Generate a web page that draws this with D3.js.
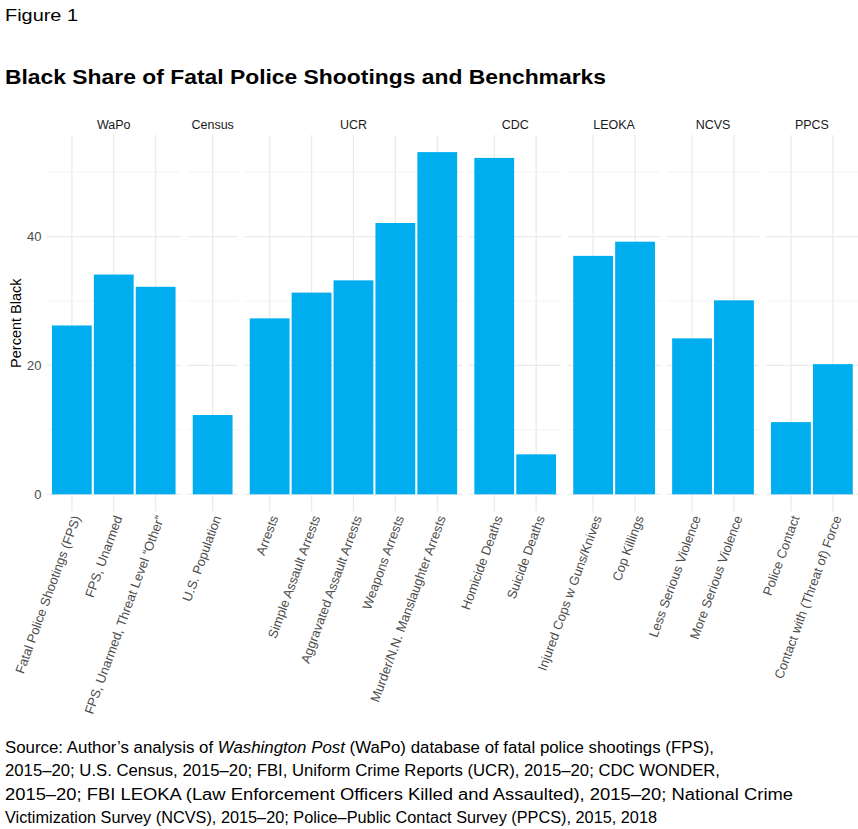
<!DOCTYPE html>
<html>
<head>
<meta charset="utf-8">
<script src="https://cdn.jsdelivr.net/npm/d3@7"></script>
<style>
  body { margin: 0; background: #fff; }
  svg { display: block; font-family: "Liberation Sans", Arial, sans-serif; }
</style>
</head>
<body>
<svg width="858" height="829"></svg>
<script>
/* data */
var facets = ["WaPo", "Census", "UCR", "CDC", "LEOKA", "NCVS", "PPCS"];

var categories = [
  "Fatal Police Shootings (FPS)", "FPS, Unarmed", "FPS, Unarmed, Threat Level \u201COther\u201D",
  "U.S. Population",
  "Arrests", "Simple Assault Arrests", "Aggravated Assault Arrests", "Weapons Arrests", "Murder/N.N. Manslaughter Arrests",
  "Homicide Deaths", "Suicide Deaths",
  "Injured Cops w Guns/Knives", "Cop Killings",
  "Less Serious Violence", "More Serious Violence",
  "Police Contact", "Contact with (Threat of) Force"
];

var groups = [
  "WaPo", "WaPo", "WaPo",
  "Census",
  "UCR", "UCR", "UCR", "UCR", "UCR",
  "CDC", "CDC",
  "LEOKA", "LEOKA",
  "NCVS", "NCVS",
  "PPCS", "PPCS"
];

var values = [
  26.2, 34.1, 32.2,
  12.3,
  27.3, 31.3, 33.2, 42.1, 53.1,
  52.2, 6.2,
  37.0, 39.2,
  24.2, 30.1,
  11.2, 20.2
];

var majorTicks = [0, 20, 40],
    minorTicks = [10, 30, 50];

var sourceLines = [
  ["Source: Author\u2019s analysis of ", "Washington Post", " (WaPo) database of fatal police shootings (FPS),"],
  ["2015\u201320; U.S. Census, 2015\u201320; FBI, Uniform Crime Reports (UCR), 2015\u201320; CDC WONDER,"],
  ["2015\u201320; FBI LEOKA (Law Enforcement Officers Killed and Assaulted), 2015\u201320; National Crime"],
  ["Victimization Survey (NCVS), 2015\u201320; Police\u2013Public Contact Survey (PPCS), 2015, 2018"]
];
var sourceWidths = [709, 715, 788, 652];

var data = categories.map(function(c, i) {
  return { cat: c, group: groups[i], value: values[i] };
});

var svg = d3.select("svg");

var panelLeft = 46.7, panelRight = 858, panelTop = 135, panelBottom = 511.4, gap = 6.7;

/* y scale with ggplot-like 5% expansion */
var maxV = d3.max(values);
var y = d3.scaleLinear()
    .domain([-0.05 * maxV, 1.05 * maxV])
    .range([panelBottom, panelTop]);

/* panel widths proportional to number of bars (+0.6 units each side) */
var counts = facets.map(function(f) { return groups.filter(function(g) { return g === f; }).length; });
var totalUnits = d3.sum(counts, function(n) { return n + 0.2; });
var unit = (panelRight - panelLeft - gap * (facets.length - 1)) / totalUnits;

var offset = panelLeft;
var panels = facets.map(function(f, i) {
  var w = (counts[i] + 0.2) * unit;
  var p = {
    name: f,
    x0: offset,
    width: w,
    x: d3.scalePoint()
        .domain(data.filter(function(d) { return d.group === f; }).map(function(d) { return d.cat; }))
        .range([offset, offset + w])
        .padding(0.6)
  };
  offset += w + gap;
  return p;
});

/* titles */
svg.append("text")
    .attr("x", 5).attr("y", 21)
    .attr("font-size", 16)
    .attr("fill", "#000")
    .attr("textLength", 73).attr("lengthAdjust", "spacingAndGlyphs")
    .text("Figure 1");

svg.append("text")
    .attr("x", 5).attr("y", 84)
    .attr("font-size", 20.5)
    .attr("font-weight", "bold")
    .attr("fill", "#000")
    .attr("textLength", 601).attr("lengthAdjust", "spacingAndGlyphs")
    .text("Black Share of Fatal Police Shootings and Benchmarks");

var grid = svg.append("g");
var bars = svg.append("g");
var labels = svg.append("g");

panels.forEach(function(p) {
  var pg = grid.append("g");

  pg.selectAll(".minor")
    .data(minorTicks)
    .enter().append("line")
      .attr("x1", p.x0).attr("x2", p.x0 + p.width)
      .attr("y1", function(d) { return y(d); })
      .attr("y2", function(d) { return y(d); })
      .attr("stroke", "#F0F0F0").attr("stroke-width", 0.8);

  pg.selectAll(".major")
    .data(majorTicks)
    .enter().append("line")
      .attr("x1", p.x0).attr("x2", p.x0 + p.width)
      .attr("y1", function(d) { return y(d); })
      .attr("y2", function(d) { return y(d); })
      .attr("stroke", "#EBEBEB").attr("stroke-width", 1.3);

  pg.selectAll(".vgrid")
    .data(p.x.domain())
    .enter().append("line")
      .attr("x1", function(d) { return p.x(d); })
      .attr("x2", function(d) { return p.x(d); })
      .attr("y1", panelTop).attr("y2", panelBottom)
      .attr("stroke", "#EBEBEB").attr("stroke-width", 1.3);

  /* strip label */
  labels.append("text")
      .attr("x", p.x0 + p.width / 2)
      .attr("y", 129)
      .attr("text-anchor", "middle")
      .attr("font-size", 12.5)
      .attr("fill", "#1A1A1A")
      .text(p.name);

  var bw = p.x.step() * 0.95;
  bars.selectAll(".bar-" + p.name)
    .data(data.filter(function(d) { return d.group === p.name; }))
    .enter().append("rect")
      .attr("x", function(d) { return p.x(d.cat) - bw / 2; })
      .attr("y", function(d) { return y(d.value); })
      .attr("width", bw)
      .attr("height", function(d) { return y(0) - y(d.value); })
      .attr("fill", "#00AEEF");

  /* rotated category labels */
  labels.selectAll(".xl-" + p.name)
    .data(p.x.domain())
    .enter().append("text")
      .attr("transform", function(d) { return "translate(" + p.x(d) + "," + (panelBottom + 3) + ") rotate(-70)"; })
      .attr("text-anchor", "end")
      .attr("dy", "0.72em")
      .attr("font-size", 13)
      .attr("fill", "#4D4D4D")
      .text(function(d) { return d; });
});

/* y axis labels */
labels.selectAll(".yl")
  .data(majorTicks)
  .enter().append("text")
    .attr("x", 41.5)
    .attr("y", function(d) { return y(d); })
    .attr("dy", "0.35em")
    .attr("text-anchor", "end")
    .attr("font-size", 13)
    .attr("fill", "#4D4D4D")
    .text(function(d) { return d; });

labels.append("text")
    .attr("transform", "translate(21," + ((panelTop + panelBottom) / 2) + ") rotate(-90)")
    .attr("text-anchor", "middle")
    .attr("font-size", 14.5)
    .attr("fill", "#000")
    .text("Percent Black");

/* source note */
var src = svg.append("g")
    .attr("font-family", "'Liberation Sans Narrow', 'Liberation Sans', Arial, sans-serif")
    .attr("font-size", 16)
    .attr("fill", "#000");

sourceLines.forEach(function(parts, i) {
  var t = src.append("text")
      .attr("x", 5)
      .attr("y", 753 + i * 23.3)
      .attr("textLength", sourceWidths[i])
      .attr("lengthAdjust", "spacingAndGlyphs");
  parts.forEach(function(s, j) {
    t.append("tspan")
        .attr("font-style", (parts.length > 1 && j === 1) ? "italic" : "normal")
        .text(s);
  });
});
</script>
</body>
</html>
